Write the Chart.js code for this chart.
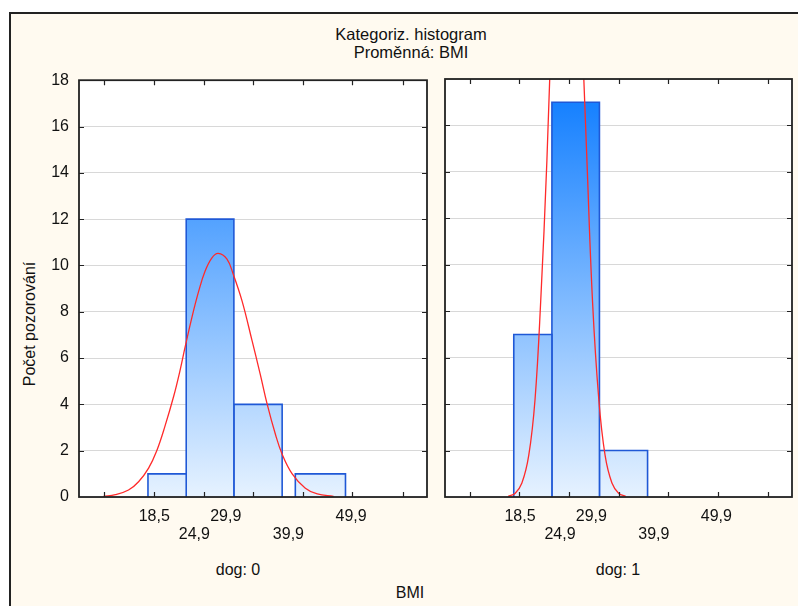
<!DOCTYPE html>
<html>
<head>
<meta charset="utf-8">
<script src="https://cdn.jsdelivr.net/npm/chart.js@4.4.1/dist/chart.umd.min.js"></script>
<style>
    body { margin: 0; background: #fff; font-family: "Liberation Sans", Arial, sans-serif; color: #111; }
    #frame { position: absolute; left: 9px; top: 12px; width: 800px; height: 600px;
             border-left: 2px solid #222; border-top: 2px solid #222; background: #fffaf0; }
    .txt { position: absolute; transform: translate(-50%, -50%); white-space: nowrap; font-size: 16px; }
    canvas { position: absolute; }
</style>
</head>
<body>
<div id="frame"></div>
<div class="txt" style="left:411px;top:34px;font-size:16.5px">Kategoriz. histogram</div>
<div class="txt" style="left:411px;top:52px;font-size:16.5px">Proměnná: BMI</div>
<div class="txt" style="left:30px;top:324px;transform:translate(-50%,-50%) rotate(-90deg)">Počet pozorování</div>
<div class="txt" style="left:238px;top:570px">dog: 0</div>
<div class="txt" style="left:618px;top:570px">dog: 1</div>
<div class="txt" style="left:410px;top:593px">BMI</div>
<canvas id="left" width="390" height="489" style="left:40px;top:61px"></canvas>
<canvas id="right" width="356" height="480" style="left:440px;top:70px"></canvas>
<script>
// histogram classes (BMI)
const binStart = [17.5, 23.6, 31.2, 41.0];
const binEnd = [23.6, 31.2, 38.9, 49.0];
const countsDog0 = [1, 12, 4, 1];
const countsDog1 = [7, 17, 2, 0];

// fitted normal curves
const curveDog0X = [10.4, 12.3, 14.4, 16.0, 17.6, 18.9, 20.2, 21.6, 22.6, 23.4, 24.5, 25.6, 26.6, 27.7,
    28.7, 30.1, 31.1, 32.5, 34.1, 35.4, 36.5, 37.8, 38.9, 40.5, 42.6, 44.5, 47.1];
const curveDog0Y = [0.03, 0.1, 0.3, 0.66, 1.25, 2.0, 3.05, 4.35, 5.45, 6.45, 7.75, 8.9, 9.75, 10.33,
    10.52, 10.27, 9.62, 8.47, 6.75, 5.31, 4.02, 2.73, 1.85, 1.0, 0.38, 0.13, 0.03];
const curveDog1X = [16.6, 17.7, 18.8, 19.9, 20.9, 21.8, 22.8, 23.7, 24.7, 26.0, 27.3, 28.2, 29.2, 30.1,
    31.1, 32.1, 33.2, 34.3, 35.4];
const curveDog1Y = [0.03, 0.15, 0.6, 1.8, 4.2, 8.4, 14.5, 21.6, 28.1, 31.9, 28.1, 21.6, 14.5, 8.4,
    4.2, 1.8, 0.6, 0.15, 0.03];

const xLabelValues = [18.5, 24.9, 29.9, 39.9, 49.9];
const xLabelTexts = ['18,5', '24,9', '29,9', '39,9', '49,9'];
const xTickMarks = [10.5, 18.4, 26.4, 34.3, 42.2, 50.1, 58.1];
const yMax = 18;

const FONT = { family: '"Liberation Sans", Arial, sans-serif', size: 16, lineHeight: 1.15 };

function barGradient(context) {
    const area = context.chart.chartArea;
    if (!area) {
        return '#8cc4ff';
    }
    const g = context.chart.ctx.createLinearGradient(0, area.bottom, 0, area.top);
    g.addColorStop(0, '#e6f2ff');
    g.addColorStop(1, '#0a7aff');
    return g;
}

// white plot background, frame and inward tick marks
const panelPlugin = {
    id: 'panel',
    beforeDraw(chart) {
        const { ctx, chartArea: a } = chart;
        ctx.save();
        ctx.fillStyle = '#fff';
        ctx.fillRect(a.left, a.top, a.right - a.left, a.bottom - a.top);
        ctx.restore();
    },
    afterDraw(chart) {
        const { ctx, chartArea: a, scales } = chart;
        ctx.save();
        ctx.strokeStyle = '#222';
        ctx.lineWidth = 1.2;
        ctx.beginPath();
        xTickMarks.forEach((v) => {
            const x = Math.round(scales.x.getPixelForValue(v)) + 0.5;
            ctx.moveTo(x, a.bottom); ctx.lineTo(x, a.bottom - 5);
            ctx.moveTo(x, a.top); ctx.lineTo(x, a.top + 5);
        });
        for (let v = 2; v < yMax; v += 2) {
            const y = Math.round(scales.y.getPixelForValue(v)) + 0.5;
            ctx.moveTo(a.left, y); ctx.lineTo(a.left + 5, y);
            ctx.moveTo(a.right, y); ctx.lineTo(a.right - 5, y);
        }
        ctx.stroke();
        ctx.lineWidth = 1.8;
        ctx.strokeRect(a.left, a.top, a.right - a.left, a.bottom - a.top);
        ctx.restore();
    },
};

function renderPanel(canvas, counts, curveX, curveY, showY, yWidth, padTop, padRight) {
    const datasets = [{
        type: 'line',
        data: curveX.map((x, i) => ({ x, y: curveY[i] })),
        borderColor: '#ff2a2a',
        borderWidth: 1.3,
        pointRadius: 0,
        tension: 0.4,
        fill: false,
        order: 0,
    }];

    counts.forEach((c, i) => {
        if (!c) {
            return;
        }
        datasets.push({
            type: 'line',
            data: [
                { x: binStart[i], y: 0 }, { x: binStart[i], y: c },
                { x: binEnd[i], y: c }, { x: binEnd[i], y: 0 },
            ],
            borderColor: '#1f58d6',
            borderWidth: 1.6,
            backgroundColor: barGradient,
            fill: 'origin',
            pointRadius: 0,
            tension: 0,
            order: 1,
        });
    });

    return new Chart(canvas, {
        type: 'line',
        data: { datasets },
        plugins: [panelPlugin],
        options: {
            responsive: false,
            animation: false,
            layout: { padding: { top: padTop, right: padRight, left: 0, bottom: 0 } },
            plugins: { legend: { display: false }, tooltip: { enabled: false } },
            scales: {
                x: {
                    type: 'linear',
                    min: 6.5,
                    max: 62,
                    grid: { display: false, drawTicks: false },
                    border: { display: false },
                    afterBuildTicks(scale) {
                        scale.ticks = xLabelValues.map((v) => ({ value: v }));
                    },
                    afterFit(scale) {
                        scale.height = 53;
                    },
                    ticks: {
                        autoSkip: false,
                        maxRotation: 0,
                        padding: 10,
                        color: '#111',
                        font: FONT,
                        callback: (value, index) => (index % 2 ? ['', xLabelTexts[index]] : [xLabelTexts[index]]),
                    },
                },
                y: {
                    min: 0,
                    max: yMax,
                    grid: { color: '#d8d8d8', lineWidth: 1, drawTicks: false },
                    border: { display: false },
                    afterFit(scale) {
                        scale.width = yWidth;
                    },
                    ticks: {
                        display: showY,
                        stepSize: 2,
                        padding: 10,
                        color: '#111',
                        font: FONT,
                    },
                },
            },
        },
    });
}

renderPanel(document.getElementById('left'), countsDog0, curveDog0X, curveDog0Y, true, 39, 0, 3);
renderPanel(document.getElementById('right'), countsDog1, curveDog1X, curveDog1Y, false, 5, 9, 4);
</script>
</body>
</html>
